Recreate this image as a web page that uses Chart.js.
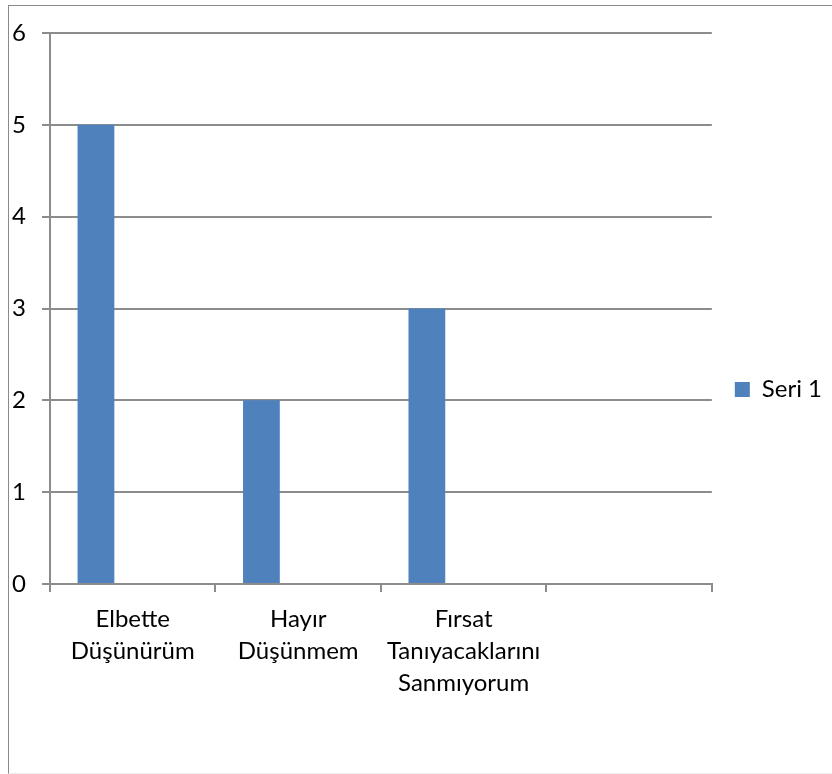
<!DOCTYPE html>
<html lang="tr">
<head>
<meta charset="utf-8">
<title>Seri 1</title>
<script src="https://cdn.jsdelivr.net/npm/chart.js@4/dist/chart.umd.min.js"></script>
<style>
    html, body { margin: 0; padding: 0; background: #fff; }
    #frame {
        position: absolute;
        left: 8px;
        top: 5px;
        width: 823px;
        height: 767px;
        border-left: 1px solid #8a8a8a;
        border-top: 1px solid #8a8a8a;
        border-bottom: 1px solid #ececec;
    }
    canvas { display: block; }
</style>
</head>
<body>
<div id="frame"><canvas id="chart" width="823" height="767"></canvas></div>
<script>
const categories = [
    ['Elbette', 'Düşünürüm'],
    ['Hayır', 'Düşünmem'],
    ['Fırsat', 'Tanıyacaklarını', 'Sanmıyorum'],
    ''
];
const seri1 = [5, 2, 3, null];
const seri2 = [null, null, null, null];
const seri3 = [null, null, null, null];
const yTicks = [0, 1, 2, 3, 4, 5, 6];

const FONT = 'Lato';
const FONT_SIZE = 24;
const GRID = '#8c8c8c';
const BLUE = '#4f81bd';

// where the plot should sit inside the canvas (canvas px)
const AREA = { top: 27, right: 703, bottom: 578 };

document.addEventListener('DOMContentLoaded', () => {
    const ctx = document.getElementById('chart');
    const chart = new Chart(ctx, {
        type: 'bar',
        data: {
            labels: categories,
            datasets: [
                { label: 'Seri 1', data: seri1, backgroundColor: BLUE },
                { label: 'Seri 2', data: seri2, backgroundColor: '#c0504d' },
                { label: 'Seri 3', data: seri3, backgroundColor: '#9bbb59' }
            ]
        },
        options: {
            responsive: false,
            animation: false,
            datasets: { bar: { categoryPercentage: 2 / 3, barPercentage: 1 } },
            layout: { padding: { top: 27, bottom: 27, left: 0, right: 10 } },
            plugins: {
                tooltip: { enabled: false },
                legend: {
                    position: 'right',
                    labels: {
                        filter: item => item.datasetIndex === 0,
                        boxWidth: 15,
                        boxHeight: 15,
                        padding: 23,
                        color: '#000',
                        font: { family: FONT, size: FONT_SIZE }
                    }
                }
            },
            scales: {
                x: {
                    afterFit: s => { s.height = 162; },
                    grid: { offset: true, drawOnChartArea: false, drawTicks: true, tickLength: 8, color: GRID, lineWidth: 2 },
                    border: { color: GRID, width: 2 },
                    ticks: {
                        autoSkip: false,
                        maxRotation: 0,
                        padding: 11,
                        color: '#000',
                        font: { family: FONT, size: FONT_SIZE, lineHeight: 32 / FONT_SIZE }
                    }
                },
                y: {
                    min: yTicks[0],
                    max: yTicks[yTicks.length - 1],
                    afterFit: s => { s.width = 41; },
                    afterBuildTicks: s => { s.ticks = yTicks.map(v => ({ value: v })); },
                    grid: { color: GRID, lineWidth: 2, tickLength: 8 },
                    border: { color: GRID, width: 2 },
                    ticks: {
                        padding: 16,
                        color: '#000',
                        // small line height so the top label does not push the plot down
                        font: { family: FONT, size: FONT_SIZE, lineHeight: 0.8 }
                    }
                }
            }
        }
    });

    // nudge the padding so the plot lands where the reference has it
    const pad = chart.options.layout.padding;
    const a = chart.chartArea;
    const dTop = AREA.top - a.top;
    pad.right = Math.max(0, pad.right + (a.right - AREA.right));
    pad.top = Math.max(0, pad.top + dTop);
    chart.options.scales.x.afterFit = s => { s.height = 162 + dTop; };
    chart.update();
});
</script>
</body>
</html>
